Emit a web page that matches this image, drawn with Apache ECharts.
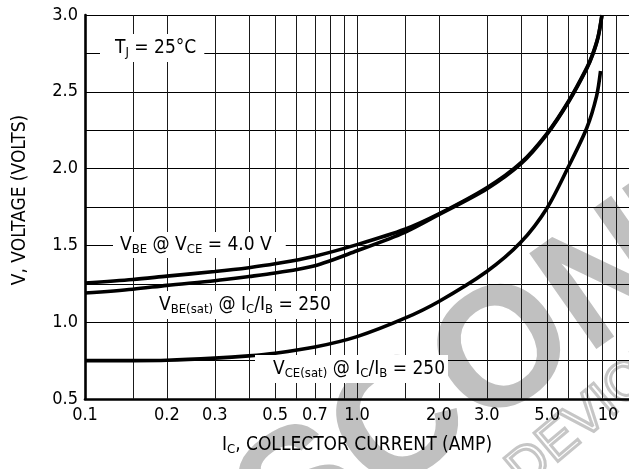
<!DOCTYPE html>
<html>
<head>
<meta charset="utf-8">
<script src="https://cdn.jsdelivr.net/npm/echarts@6/dist/echarts.min.js"></script>
<style>
  html, body { margin: 0; padding: 0; background: #fff; }
  #chart { width: 629px; height: 469px; }
</style>
</head>
<body>
<div id="chart"></div>
<script>
// Collector current (A) and voltage (V) for each curve, TJ = 25 °C
const icVbe = [0.1, 0.15, 0.2, 0.3, 0.4, 0.5, 0.7, 1.0, 1.5, 2.0, 3.0, 4.0, 5.0, 6.0, 7.0, 7.35, 7.7, 7.95];
const vbe   = [1.255, 1.278, 1.30, 1.33, 1.355, 1.38, 1.43, 1.505, 1.605, 1.705, 1.875, 2.037, 2.23, 2.44, 2.657, 2.745, 2.86, 3.0];

const icVbeSat = [0.1, 0.15, 0.2, 0.3, 0.4, 0.5, 0.7, 1.0, 1.5, 2.0, 3.0, 4.0, 5.0, 6.0, 7.0, 7.35, 7.7, 7.95];
const vbeSat   = [1.19, 1.215, 1.24, 1.27, 1.297, 1.32, 1.368, 1.465, 1.585, 1.70, 1.868, 2.03, 2.225, 2.435, 2.652, 2.74, 2.855, 2.995];

const icVceSat = [0.1, 0.15, 0.2, 0.3, 0.4, 0.5, 0.7, 1.0, 1.5, 2.0, 3.0, 4.0, 5.0, 6.0, 7.0, 7.6, 7.86];
const vceSat   = [0.75, 0.75, 0.752, 0.766, 0.781, 0.798, 0.838, 0.906, 1.026, 1.135, 1.33, 1.52, 1.744, 2.015, 2.266, 2.472, 2.635];

// Axis scales, grid lines and tick labels
const xMin = 0.1, xMax = 10;
const yMin = 0.5, yMax = 3.0, yStep = 0.25;
const xGridValues = [0.15, 0.2, 0.3, 0.4, 0.5, 0.6, 0.7, 0.8, 0.9, 1, 1.5, 2, 3, 4, 5, 6, 7, 8, 9];
const xTickValues = [0.1, 0.2, 0.3, 0.5, 0.7, 1, 2, 3, 5, 7, 10];
const xTickLabels = ['0.1', '0.2', '0.3', '0.5', '0.7', '1.0', '2.0', '3.0', '5.0', '7.0', '10'];
const yTickValues = [0.5, 1.0, 1.5, 2.0, 2.5, 3.0];
const yTickLabels = ['0.5', '1.0', '1.5', '2.0', '2.5', '3.0'];

const FONT = "'Liberation Sans Narrow', 'Arial Narrow', 'DejaVu Sans Condensed', sans-serif";
const INK = '#000';

function pairs(xs, ys) { return xs.map((x, i) => [x, ys[i]]); }
function lookup(values, labels, v) {
  let best = 0;
  values.forEach((t, i) => { if (Math.abs(Math.log(t) - Math.log(v)) < Math.abs(Math.log(values[best]) - Math.log(v))) best = i; });
  return labels[best];
}
function lookupLin(values, labels, v) {
  let best = 0;
  values.forEach((t, i) => { if (Math.abs(t - v) < Math.abs(values[best] - v)) best = i; });
  return labels[best];
}

const mainRich = { fontFamily: FONT, fontSize: 19, lineHeight: 22, color: INK };
const subRich = { fontFamily: FONT, fontSize: 13, lineHeight: 11, color: INK, verticalAlign: 'bottom' };
const richSet = { m: mainRich, s: subRich };

function note(x, y, text, padding) {
  return {
    type: 'text', z: 100, x: x, y: y,
    style: {
      text: text, rich: richSet, align: 'left', verticalAlign: 'middle',
      backgroundColor: '#fff', padding: padding
    }
  };
}

const chart = echarts.init(document.getElementById('chart'), null, { renderer: 'canvas' });

const curveStyle = { color: INK, width: 3.6 };

chart.setOption({
  animation: false,
  backgroundColor: '#fff',
  grid: { left: 85, right: -2, top: 15, bottom: 70, containLabel: false },
  xAxis: {
    type: 'log', logBase: 10, min: xMin, max: xMax,
    axisLine: { show: true, onZero: false, lineStyle: { color: INK, width: 2.6 } },
    axisTick: { show: false },
    splitLine: { show: false },
    minorTick: { show: false },
    axisLabel: {
      customValues: xTickValues,
      showMinLabel: true, showMaxLabel: true, hideOverlap: false,
      margin: 7,
      color: INK, fontFamily: FONT, fontSize: 18,
      formatter: v => {
        const t = lookup(xTickValues, xTickLabels, v);
        return t === '10' ? '{end|' + t + '}' : t;
      },
      rich: { end: { fontFamily: FONT, fontSize: 18, color: INK, padding: [0, 42, 0, 0] } }
    }
  },
  yAxis: {
    type: 'value', min: yMin, max: yMax, interval: yStep,
    axisLine: { show: true, lineStyle: { color: INK, width: 2.6 } },
    axisTick: { show: false },
    splitLine: { show: true, lineStyle: { color: INK, width: 1 } },
    axisLabel: {
      customValues: yTickValues,
      margin: 7,
      color: INK, fontFamily: FONT, fontSize: 18,
      formatter: v => lookupLin(yTickValues, yTickLabels, v)
    }
  },
  series: [
    {
      name: 'VBE @ VCE = 4.0 V', type: 'line', data: pairs(icVbe, vbe),
      smooth: 0.3, showSymbol: false, lineStyle: curveStyle, z: 5,
      markLine: {
        silent: true, symbol: ['none', 'none'], z: 3,
        label: { show: false },
        lineStyle: { color: '#1a1a1a', width: 1, type: 'solid' },
        emphasis: { disabled: true },
        data: xGridValues.map(v => ({ xAxis: v }))
      }
    },
    {
      name: 'VBE(sat) @ IC/IB = 250', type: 'line', data: pairs(icVbeSat, vbeSat),
      smooth: 0.3, showSymbol: false, lineStyle: curveStyle, z: 5
    },
    {
      name: 'VCE(sat) @ IC/IB = 250', type: 'line', data: pairs(icVceSat, vceSat),
      smooth: 0.3, showSymbol: false, lineStyle: curveStyle, z: 5
    }
  ],
  graphic: [
    // faint diagonal stamp behind the plot
    {
      type: 'text', z: -10, x: 119, y: 626, rotation: 35 * Math.PI / 180,
      style: {
        text: 'DISCONTINUED', fill: '#c0c0c0',
        font: "bold 170px 'Liberation Sans', sans-serif",
        align: 'left', verticalAlign: 'middle'
      }
    },
    {
      type: 'text', z: -10, x: 515, y: 478, rotation: 40 * Math.PI / 180,
      style: {
        text: 'DEVICE', fill: 'none', stroke: '#c6c6c6', lineWidth: 3,
        font: "54px 'Liberation Sans', sans-serif",
        align: 'left', verticalAlign: 'middle'
      }
    },
    note(100, 48, '{m|T}{s|J}{m| = 25°C}', [3, 8, 3, 15]),
    note(113, 245, '{m|V}{s|BE}{m| @ V}{s|CE}{m| = 4.0 V}', [2, 14, 2, 7]),
    note(150, 305, '{m|V}{s|BE(sat)}{m| @ I}{s|C}{m|/I}{s|B}{m| = 250}', [3, 7, 3, 9]),
    note(255, 369, '{m|V}{s|CE(sat)}{m| @ I}{s|C}{m|/I}{s|B}{m| = 250}', [3, 3, 3, 18]),
    // axis titles
    {
      type: 'text', z: 100, x: 20, y: 200, rotation: Math.PI / 2,
      style: {
        text: 'V, VOLTAGE (VOLTS)', fill: INK,
        font: "19px " + FONT, align: 'center', verticalAlign: 'middle'
      }
    },
    {
      type: 'text', z: 100, x: 357, y: 445,
      style: {
        text: '{m|I}{s|C}{m|, COLLECTOR CURRENT (AMP)}', rich: richSet,
        align: 'center', verticalAlign: 'middle'
      }
    }
  ]
});
</script>
</body>
</html>
